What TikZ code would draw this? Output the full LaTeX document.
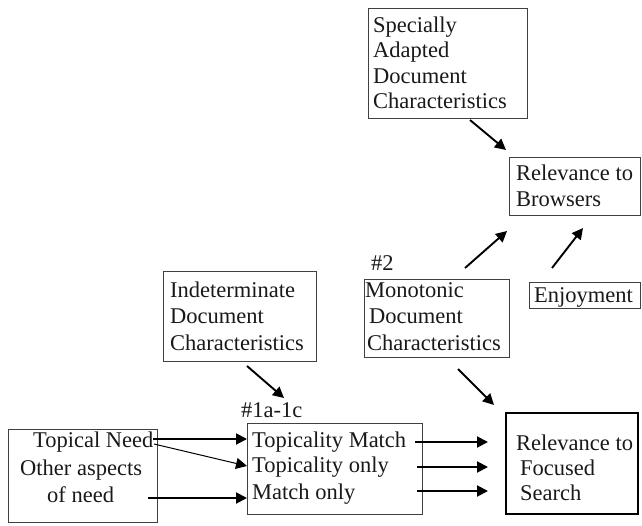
\documentclass[tikz,border=0pt]{standalone}
\usepackage{fontspec}
\setmainfont{Liberation Serif}
\usetikzlibrary{arrows.meta}
\begin{document}
\begin{tikzpicture}[x=1pt,y=-1pt,
  font=\fontsize{22.5}{26}\selectfont,
  frame/.style={draw=black!75,line width=0.9pt,inner sep=0pt,anchor=north west},
  boldframe/.style={draw=black,line width=2pt,inner sep=0pt,anchor=north west},
  lbl/.style={inner sep=0pt,anchor=base west,text=black!90},
  arr/.style={line width=1.9pt,-{Triangle[length=11pt,width=11pt]}},
  thinarr/.style={line width=1pt,-{Triangle[length=11pt,width=11pt]}}]
\useasboundingbox (0,0) rectangle (642,525);

% upper box: specially adapted characteristics
\node[frame,minimum width=159pt,minimum height=110pt] (spec) at (368,8) {};
\node[lbl] (spec1) at (373,32) {Specially};
\node[lbl] (spec2) at (373,57.5) {Adapted};
\node[lbl] (spec3) at (373,83) {Document};
\node[lbl] (spec4) at (373,108) {Characteristics};

% relevance to browsers
\node[frame,minimum width=131pt,minimum height=58pt] (brow) at (509,157) {};
\node[lbl] (brow1) at (516,180) {Relevance to};
\node[lbl] (brow2) at (516,206) {Browsers};

% indeterminate characteristics
\node[frame,minimum width=153pt,minimum height=90pt] (ind) at (163,271) {};
\node[lbl] (ind1) at (170,297) {Indeterminate};
\node[lbl] (ind2) at (170,323) {Document};
\node[lbl] (ind3) at (170,350) {Characteristics};

% monotonic characteristics
\node[lbl] (tag2) at (371,270) {\#2};
\node[frame,minimum width=145pt,minimum height=78pt] (mono) at (364,279) {};
\node[lbl] (mono1) at (365,297) {Monotonic};
\node[lbl] (mono2) at (369,323) {Document};
\node[lbl] (mono3) at (367,350) {Characteristics};

% enjoyment
\node[frame,minimum width=111pt,minimum height=26pt] (enj) at (529,282) {};
\node[lbl] (enj1) at (534,302) {Enjoyment};

% needs
\node[frame,minimum width=149pt,minimum height=93pt] (need) at (8,429) {};
\node[lbl] (need1) at (33,447) {Topical Need};
\node[lbl] (need2) at (20,475) {Other aspects};
\node[lbl] (need3) at (47,502) {of need};

% topicality / match
\node[lbl] (tag1) at (241,417) {\#1a-1c};
\node[frame,minimum width=175pt,minimum height=91pt] (top) at (247,423) {};
\node[lbl] (top1) at (252,447) {Topicality Match};
\node[lbl] (top2) at (252,472) {Topicality only};
\node[lbl] (top3) at (252,499) {Match only};

% relevance to focused search
\node[boldframe,minimum width=132pt,minimum height=101pt] (foc) at (505,412) {};
\node[lbl] (foc1) at (516,450) {Relevance to};
\node[lbl] (foc2) at (520,475) {Focused};
\node[lbl] (foc3) at (520,500) {Search};

% free ends of the floating arrows
\coordinate (a1s) at (470,120); \coordinate (a1e) at (506,150);
\coordinate (a2s) at (465,268); \coordinate (a2e) at (507,231);
\coordinate (a3s) at (552,268); \coordinate (a3e) at (583,228);
\coordinate (a4s) at (247,366); \coordinate (a4e) at (284,398);
\coordinate (a5s) at (458,369); \coordinate (a5e) at (494,405);

\draw[arr] (a1s) -- (a1e);
\draw[arr] (a2s) -- (a2e);
\draw[arr] (a3s) -- (a3e);
\draw[arr] (a4s) -- (a4e);
\draw[arr] (a5s) -- (a5e);

% needs to topicality rows
\coordinate (n1) at (153,439);
\coordinate (n1b) at (154,444);
\coordinate (n2) at (148,498);
\draw[arr] (n1) -- (n1 -| top.west);
\draw[thinarr] (n1b) -- (top.west |- 0,466);
\draw[arr] (n2) -- (n2 -| top.west);

% topicality rows to focused search
\coordinate (r1) at (415,442);
\coordinate (r2) at (417,467);
\coordinate (r3) at (417,491);
\draw[arr] (r1) -- ++(73,0);
\draw[arr] (r2) -- ++(71,0);
\draw[arr] (r3) -- ++(71,0);
\end{tikzpicture}
\end{document}
